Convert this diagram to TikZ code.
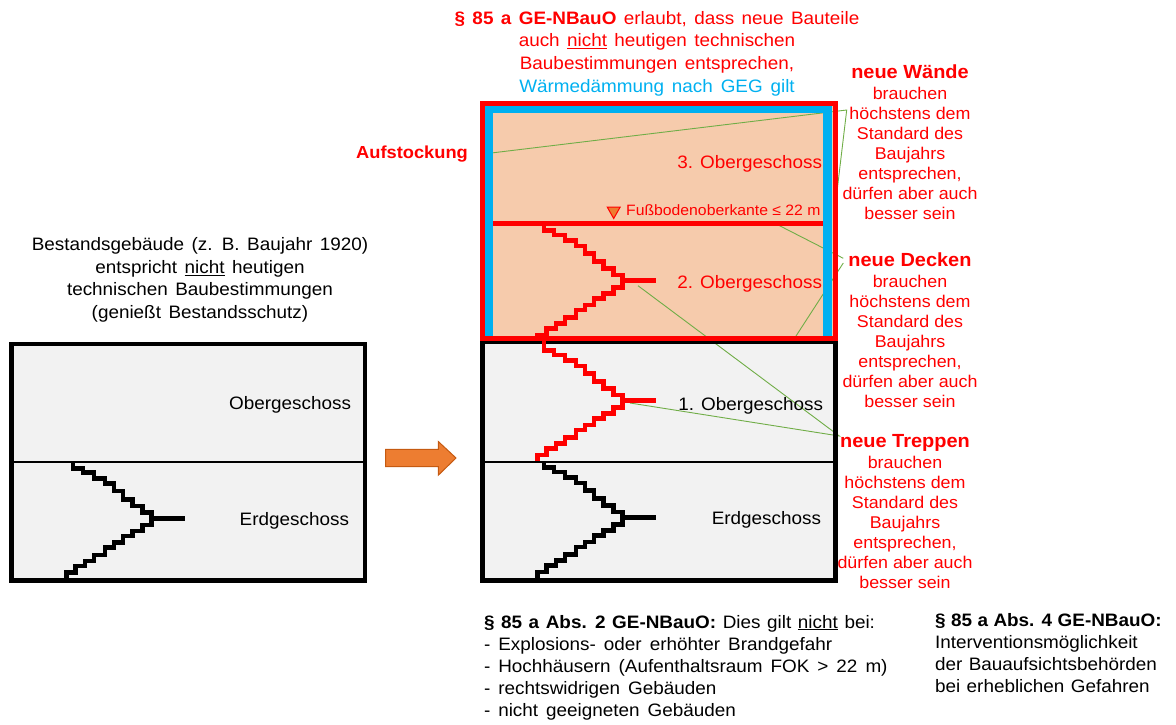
\documentclass[tikz,border=0pt]{standalone}
\usepackage{fontspec}
\setmainfont{Liberation Sans}[FakeStretch=1.05]
\definecolor{rot}{HTML}{FF0000}
\definecolor{blau}{HTML}{00B0F0}
\definecolor{pfirsich}{HTML}{F6CBAC}
\definecolor{grau}{HTML}{F2F2F2}
\definecolor{gruen}{HTML}{70AD47}
\definecolor{orangefill}{HTML}{ED7D31}
\definecolor{orangerand}{HTML}{C55A11}
\newcommand{\spc}[1]{\spaceskip=#1pt\relax}
\tikzset{
  x=1pt,y=-1pt,
  textblock/.style={inner sep=0pt,outer sep=0pt,align=center,anchor=north},
  sidelabel/.style={textblock,text=rot,font=\fontsize{17}{20}\selectfont},
  leftblock/.style={textblock,align=left,anchor=north west},
  geschoss/.style={inner sep=0pt,outer sep=0pt,anchor=base east,font=\fontsize{18}{20}\selectfont},
  leader/.style={draw=gruen,line width=0.9pt},
  stairline/.style={line width=4.5pt,line join=miter}
}
\newcommand{\treppe}[3]{%
 \draw[stairline,draw=#3,shift={(#1,#2)}] (-78.7,-56) -- (-78.7,-50) -- (-68.7,-50) -- (-68.7,-45.7) -- (-57.7,-45.7) -- (-57.7,-40) -- (-46.7,-40) -- (-46.7,-34.7) -- (-37.7,-34.7) -- (-37.7,-27.3) -- (-28.7,-27.3) -- (-28.7,-19) -- (-19.3,-19) -- (-19.3,-12.3) -- (-9.3,-12.3) -- (-9.3,-5.7) -- (0,-5.7) -- (0,6.7) -- (-9.3,6.7) -- (-9.3,12.7) -- (-19.3,12.7) -- (-19.3,17.7) -- (-28.7,17.7) -- (-28.7,24.3) -- (-37.7,24.3) -- (-37.7,29.3) -- (-46.7,29.3) -- (-46.7,36.7) -- (-57.7,36.7) -- (-57.7,42.7) -- (-66.7,42.7) -- (-66.7,47.7) -- (-76,47.7) -- (-76,54.3) -- (-85.3,54.3) -- (-85.3,60);
 \draw[stairline,draw=#3] (#1,#2) -- ++(33.5,0);
}
\begin{document}
\begin{tikzpicture}
\useasboundingbox (0,0) rectangle (1176,724);
% Bestandsgebaeude
\node[draw=black,fill=grau,line width=4.5pt,outer sep=0pt,minimum width=353.5pt,minimum height=236.5pt,anchor=north west,inner sep=0pt] (bestand) at (11.5,344) {};
\draw[line width=2pt] (bestand.west |- 0,462) coordinate (bl) -- (bestand.east |- 0,462) coordinate (br);
% Rechtes Gebaeude: Flaechen
\fill[grau] (482.5,344) rectangle (835.5,580.5);
\fill[pfirsich] (482.5,103.5) rectangle (835.5,338.5);
% Hinweislinien
\coordinate (wA) at (483,154); \coordinate (wK) at (846.7,110); \coordinate (wB) at (837.3,189);
\coordinate (dA) at (771.7,221.7); \coordinate (dK) at (843.3,258.3); \coordinate (dK2) at (843.3,263); \coordinate (dB) at (796,336);
\coordinate (tA) at (638,285.7); \coordinate (tB) at (630,403); \coordinate (tK) at (839.3,436);
\draw[leader] (wA) -- (wK) -- (wB);
\draw[leader] (dA) -- (dK);
\draw[leader] (dK2) -- (dB);
\draw[leader] (tA) -- (tK) -- (tB);
% Rahmen
\draw[line width=4.5pt] (482.5,342) -- (482.5,580.5) -- (835.5,580.5) -- (835.5,342) -- cycle;
\draw[line width=2pt] (482.5,462) -- (835.5,462);
\draw[rot,line width=5pt] (493,223.3) -- (823,223.3);
\fill[blau] (484,105) rectangle (493,336);
\fill[blau] (484,105) rectangle (832,113.3);
\fill[blau] (823,105) rectangle (832,336);
\node[draw=rot,line width=4.5pt,outer sep=0pt,minimum width=353.2pt,minimum height=235pt,anchor=north west,inner sep=0pt] (neu) at (482.3,103.5) {};
% Treppen
\treppe{151.7}{518.3}{black}
\treppe{622.7}{517.7}{black}
\treppe{622.7}{400.7}{rot}
\treppe{622.7}{280.7}{rot}
\draw[stairline,draw=rot] (544,333) -- (544,348);
% Pfeil
\draw[draw=orangerand,fill=orangefill,line width=1pt] (385.5,449.3) -- (438.3,449.3) -- (438.3,441.5) -- (456,458) -- (438.3,475.2) -- (438.3,466.7) -- (385.5,466.7) -- cycle;
% Hoehenmarke
\draw[draw=rot,fill=orangefill,line width=1pt] (607.2,207) -- (620.2,207) -- (613.7,218.5) -- cycle;
\node[inner sep=0pt,anchor=base west,text=rot,font=\fontsize{15}{16}\selectfont] (fok) at (626,215) {Fußbodenoberkante ≤ 22 m};
% Geschosse
\node[geschoss] (og) at (351,409) {Obergeschoss};
\node[geschoss] (eg) at (349,525) {Erdgeschoss};
\node[geschoss,text=rot] (og3) at (822,168) {3. Obergeschoss};
\node[geschoss,text=rot] (og2) at (822,288) {2. Obergeschoss};
\node[geschoss] (og1) at (823,410) {1. Obergeschoss};
\node[geschoss] (eg2) at (821,524) {Erdgeschoss};
% Texte
\node[textblock,font=\fontsize{18}{22.7}\selectfont] (kopf) at (657,11) {\spc{7.4}\textcolor{rot}{\textbf{§ 85 a GE-NBauO}} \textcolor{rot}{erlaubt, dass neue Bauteile}\\
\spc{7.4}\textcolor{rot}{auch \underline{nicht} heutigen technischen}\\
\spc{7.4}\textcolor{rot}{Baubestimmungen entsprechen,}\\
\spc{7.8}\textcolor{blau}{Wärmedämmung nach GEG gilt}};
\node[inner sep=0pt,anchor=base west,text=rot,font=\fontsize{17.4}{20}\selectfont\bfseries] (auf) at (356,158) {Aufstockung};
\node[textblock,font=\fontsize{18}{22.7}\selectfont] (best) at (200,237.5) {\spc{7.5}Bestandsgebäude (z. B. Baujahr 1920)\\
\spc{7.5}entspricht \underline{nicht} heutigen\\
\spc{7.5}technischen Baubestimmungen\\
\spc{7.5}(genießt Bestandsschutz)};
\newcommand{\seitentext}[1]{\textbf{\fontsize{19}{20}\selectfont #1}\\[1pt]brauchen\\höchstens dem\\Standard des\\Baujahrs\\entsprechen,\\dürfen aber auch\\besser sein}
\node[sidelabel] (wand) at (910,65) {\seitentext{neue Wände}};
\node[sidelabel] (decke) at (910,253) {\seitentext{neue Decken}};
\node[sidelabel] (treppe) at (905,434) {\seitentext{neue Treppen}};
\node[leftblock,font=\fontsize{18}{22.2}\selectfont] (abs2) at (484,615) {\spc{6.6}\textbf{§ 85 a Abs. 2 GE-NBauO:} Dies gilt \underline{nicht} bei:\\
\spc{8}- Explosions- oder erhöhter Brandgefahr\\
\spc{8}- Hochhäusern (Aufenthaltsraum FOK > 22 m)\\
\spc{8}- rechtswidrigen Gebäuden\\
\spc{8}- nicht geeigneten Gebäuden};
\node[leftblock,font=\fontsize{18}{22.2}\selectfont] (abs4) at (935,613) {\spc{5.5}\textbf{§ 85 a Abs. 4 GE-NBauO:}\\
\spc{6.5}Interventionsmöglichkeit\\
\spc{6.5}der Bauaufsichtsbehörden\\
\spc{6.5}bei erheblichen Gefahren};
\end{tikzpicture}
\end{document}
